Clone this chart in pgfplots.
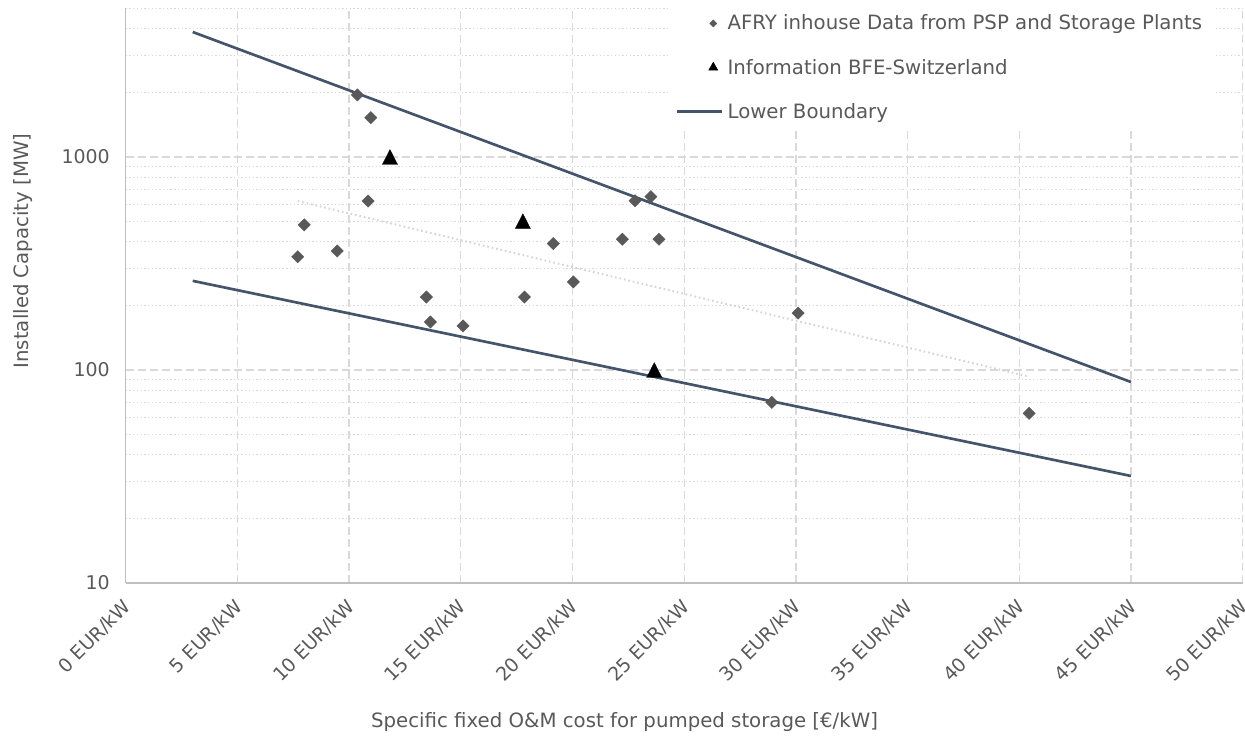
\documentclass[border=0pt]{standalone}
\usepackage{pgfplots}
\pgfplotsset{compat=1.18}
\usepackage{fontspec}
\setmainfont{DejaVu Sans}
\definecolor{txt}{HTML}{595959}
\definecolor{grd}{HTML}{D9D9D9}
\definecolor{axl}{HTML}{BFBFBF}
\definecolor{navy}{HTML}{44546A}
\definecolor{dia}{HTML}{595959}
\definecolor{trend}{RGB}{212,212,212}
\newcommand{\chartfont}{\fontsize{14.8pt}{17.5pt}\selectfont}
\newcommand{\tickfont}{\fontsize{14.2pt}{17pt}\selectfont}

\pgfplotstableread{
x y
10.37 1955
10.97 1529
10.85 621
7.99 480
7.70 340
9.47 362
13.46 220
13.64 168
15.10 161
17.85 220
19.14 392
20.04 259
22.23 411
22.80 623
23.51 651
23.87 411
30.10 185
28.92 70.5
40.44 62.6
}\afrydata

\pgfplotstableread{
x y
11.83 1000
17.78 500
23.66 100
}\bfedata

\pgfplotstableread{
x y
3 3860
45 87.8
}\upperline

\pgfplotstableread{
x y
3 262
45 31.8
}\lowerline

\pgfplotstableread{
x y
7.70 621
40.44 93
}\trenddata

\begin{document}
\begin{tikzpicture}
\useasboundingbox (-94.275pt,-116.25pt) rectangle (839.475pt,437.25pt);
\begin{axis}[
  at={(0pt,0pt)}, anchor=south west, scale only axis,
  width=837.75pt, height=431.2pt,
  xmin=0, xmax=50, ymin=10, ymax=5000, ymode=log, log basis y=10,
  xtick={0,5,...,50},
  xticklabels={0 EUR/kW,5 EUR/kW,10 EUR/kW,15 EUR/kW,20 EUR/kW,25 EUR/kW,30 EUR/kW,35 EUR/kW,40 EUR/kW,45 EUR/kW,50 EUR/kW},
  ytick={10,100,1000},
  yticklabels={10,100,1000},
  minor ytick={20,30,40,50,60,70,80,90,200,300,400,500,600,700,800,900,2000,3000,4000,5000},
  xmajorgrids, ymajorgrids, yminorgrids,
  major grid style={grd, line width=1pt, dash pattern=on 6pt off 3pt},
  minor grid style={grd, line width=0.75pt, dash pattern=on 1pt off 1.8pt},
  axis lines*=left,
  axis line style={axl, line width=1.1pt, -},
  tick style={draw=none},
  major tick length=0pt, minor tick length=0pt,
  yticklabel style={font=\tickfont, text=txt, anchor=east, inner sep=0pt, xshift=-11.8pt},
  xticklabel style={font=\tickfont, text=txt, inner sep=0pt, xshift=1.5pt, yshift=-15.5pt, rotate=45, anchor=east},
  xlabel={Specific fixed O\&M cost for pumped storage [€/kW]},
  ylabel={Installed Capacity [MW]},
  xlabel style={font=\chartfont, text=txt, at={(axis description cs:0.4466,-0.2418)}, anchor=center},
  ylabel style={font=\chartfont, text=txt, at={(axis description cs:-0.0919,0.5775)}, anchor=center},
  legend style={at={(axis description cs:0.4852,1.007)}, anchor=north west, draw=none, fill=white,
    font=\chartfont, text=txt, row sep=16.3pt, inner xsep=6pt, inner ysep=6pt,
    nodes={inner xsep=3pt}},
  legend cell align=left,
  clip=false,
]
\addplot[trend, line width=1.5pt, dash pattern=on 1.2pt off 2.2pt, forget plot] table {\trenddata};
\addplot[navy, line width=2pt, forget plot] table {\upperline};
\addplot[only marks, mark=square*, mark size=3.3pt, mark options={rotate=45, fill=dia, draw=dia, line width=0.2pt},
  legend image code/.code={\path[draw=none,fill=none] (0pt,0pt) -- (33.75pt,0pt); \path[mark size=1.9pt] plot coordinates {(27pt,0pt)};}]
  table {\afrydata};
\addlegendentry{AFRY inhouse Data from PSP and Storage Plants}
\addplot[only marks, mark=triangle*, mark size=6.6pt, mark options={yshift=-1.9pt, yscale=1.13, fill=black, draw=black, line width=0.2pt},
  legend image code/.code={\path[draw=none,fill=none] (0pt,0pt) -- (33.75pt,0pt); \path[mark size=3.9pt, mark options={yscale=1, yshift=0pt}] plot coordinates {(27pt,0pt)};}]
  table {\bfedata};
\addlegendentry{Information BFE-Switzerland}
\addplot[navy, line width=2pt,
  legend image code/.code={\draw (0pt,0pt) -- (33.75pt,0pt);}] table {\lowerline};
\addlegendentry{Lower Boundary}
\end{axis}
\end{tikzpicture}
\end{document}
